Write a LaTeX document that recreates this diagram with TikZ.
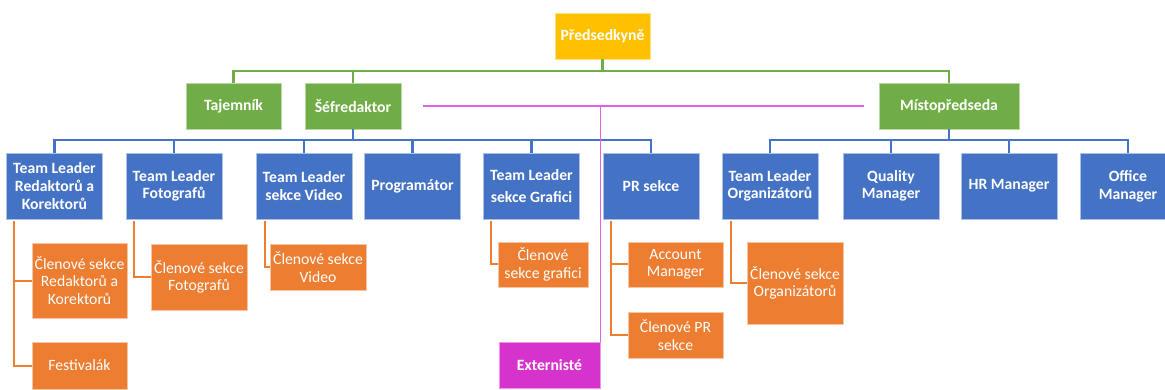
\documentclass[tikz,border=0pt]{standalone}
\usepackage{fontspec}
\setmainfont{Carlito}

\definecolor{zluta}{RGB}{255,192,0}
\definecolor{zelena}{RGB}{112,173,71}
\definecolor{modra}{RGB}{68,114,196}
\definecolor{oranz}{RGB}{237,125,49}
\definecolor{fialova}{RGB}{214,50,204}
\definecolor{fialcara}{RGB}{226,96,226}

\tikzset{
	ramec/.style={inner sep=1pt, align=center, text=white, line width=0.8pt, minimum width=96pt, font=\fontsize{15.7}{17.6}\selectfont\bfseries},
	chairbox/.style={ramec, fill=zluta, draw=zluta!50!white, minimum width=95pt, minimum height=46pt},
	vicebox/.style={ramec, fill=zelena, draw=zelena!50!white, minimum height=46pt},
	leadbox/.style={ramec, fill=modra, draw=modra!45!white, minimum height=66pt},
	membox/.style={ramec, fill=oranz, draw=oranz!45!white, font=\fontsize{15.7}{17.6}\selectfont},
	extbox/.style={ramec, fill=fialova, draw=fialova!50!white, minimum width=101pt, minimum height=46pt},
	zelline/.style={draw=zelena, line width=2.6pt},
	modline/.style={draw=modra, line width=2.4pt},
	oraline/.style={draw=oranz, line width=2pt},
	extline/.style={draw=fialcara, line width=1.5pt}
}

\begin{document}
\begin{tikzpicture}[x=1pt, y=-1pt]
	\useasboundingbox (0,0) rectangle (1165,390);
	\coordinate (gy) at (0,71);
	\coordinate (by) at (0,140);

	% vedeni
	\node[chairbox] (pred) at (602.5,36) {Předsedkyně};
	\node[vicebox, minimum width=95pt] (taj) at (233.5,106) {Tajemník};
	\node[vicebox] (sef) at (353,106) {Šéfredaktor};
	\node[vicebox, minimum width=140pt] (mist) at (949,106) {Místopředseda};

	% team leadri
	\node[leadbox] (tlr) at (54.5,186) {Team Leader\\Redaktorů a\\Korektorů};
	\node[leadbox] (tlf) at (174,186) {Team Leader\\Fotografů};
	\node[leadbox] (tlv) at (304,186) {Team Leader\\sekce Video};
	\node[leadbox] (prog) at (412.5,186) {Programátor};
	\node[leadbox] (tlg) at (531.5,186) {Team Leader\\[5pt]sekce Grafici};
	\node[leadbox] (prs) at (651,186) {PR sekce};
	\node[leadbox] (tlo) at (770,186) {Team Leader\\Organizátorů};
	\node[leadbox] (qm) at (891,186) {Quality\\Manager};
	\node[leadbox] (hr) at (1009,186) {HR Manager};
	\node[leadbox] (om) at (1128,186.5) {Office\\Manager};

	% clenove
	\node[membox, minimum width=95pt, minimum height=75pt] (mr) at (79.5,280.5) {Členové sekce\\Redaktorů a\\Korektorů};
	\node[membox, minimum width=95pt, minimum height=47pt] (fest) at (79.5,365.5) {Festivalák};
	\node[membox, minimum height=66pt] (mf) at (199,277) {Členové sekce\\Fotografů};
	\node[membox, minimum height=46pt] (mv) at (318,267) {Členové sekce\\Video};
	\node[membox, minimum width=90pt, minimum height=45pt] (mg) at (543,264.5) {Členové\\sekce grafici};
	\node[membox, minimum width=95pt, minimum height=45pt] (am) at (675.5,264.5) {Account\\Manager};
	\node[membox, minimum width=95pt, minimum height=46pt] (mpr) at (675.5,335) {Členové PR\\sekce};
	\node[membox, minimum height=82pt] (mo) at (795,283) {Členové sekce\\Organizátorů};

	\node[extbox] (ext) at (549.5,365) {Externisté};

	% spojnice
	\draw[zelline] (pred.south) -- (pred.south |- gy);
	\draw[zelline] (taj.north) |- (mist.north |- gy) -- (mist.north);
	\draw[zelline] (sef.north) -- (sef.north |- gy);

	\draw[modline] (sef.south) -- (sef.south |- by);
	\draw[modline] (tlr.north) |- (prs.north |- by) -- (prs.north);
	\foreach \n in {tlf,tlv,prog,tlg}
		\draw[modline] (\n.north) -- (\n.north |- by);
	\draw[modline] (mist.south) -- (mist.south |- by);
	\draw[modline] (tlo.north) |- (om.north |- by) -- (om.north);
	\foreach \n in {qm,hr}
		\draw[modline] (\n.north) -- (\n.north |- by);

	\draw[oraline] ([xshift=8pt,yshift=-2pt]tlr.south west) |- (mr.west);
	\draw[oraline] ([xshift=8pt,yshift=-2pt]tlr.south west) |- (fest.west);
	\draw[oraline] ([xshift=8pt,yshift=-2pt]tlf.south west) |- (mf.west);
	\draw[oraline] ([xshift=9pt,yshift=-2pt]tlv.south west) |- (mv.west);
	\draw[oraline] ([xshift=8pt,yshift=-2pt]tlg.south west) |- (mg.west);
	\draw[oraline] ([xshift=8pt,yshift=-2pt]prs.south west) |- (am.west);
	\draw[oraline] ([xshift=8pt,yshift=-2pt]prs.south west) |- (mpr.west);
	\draw[oraline] ([xshift=9pt,yshift=-2pt]tlo.south west) |- (mo.west);

	\draw[extline] ([xshift=22pt]sef.east) -- ([xshift=-15pt]mist.west);
	\draw[extline] (ext.north east |- sef.east) -- (ext.north east);
\end{tikzpicture}
\end{document}
